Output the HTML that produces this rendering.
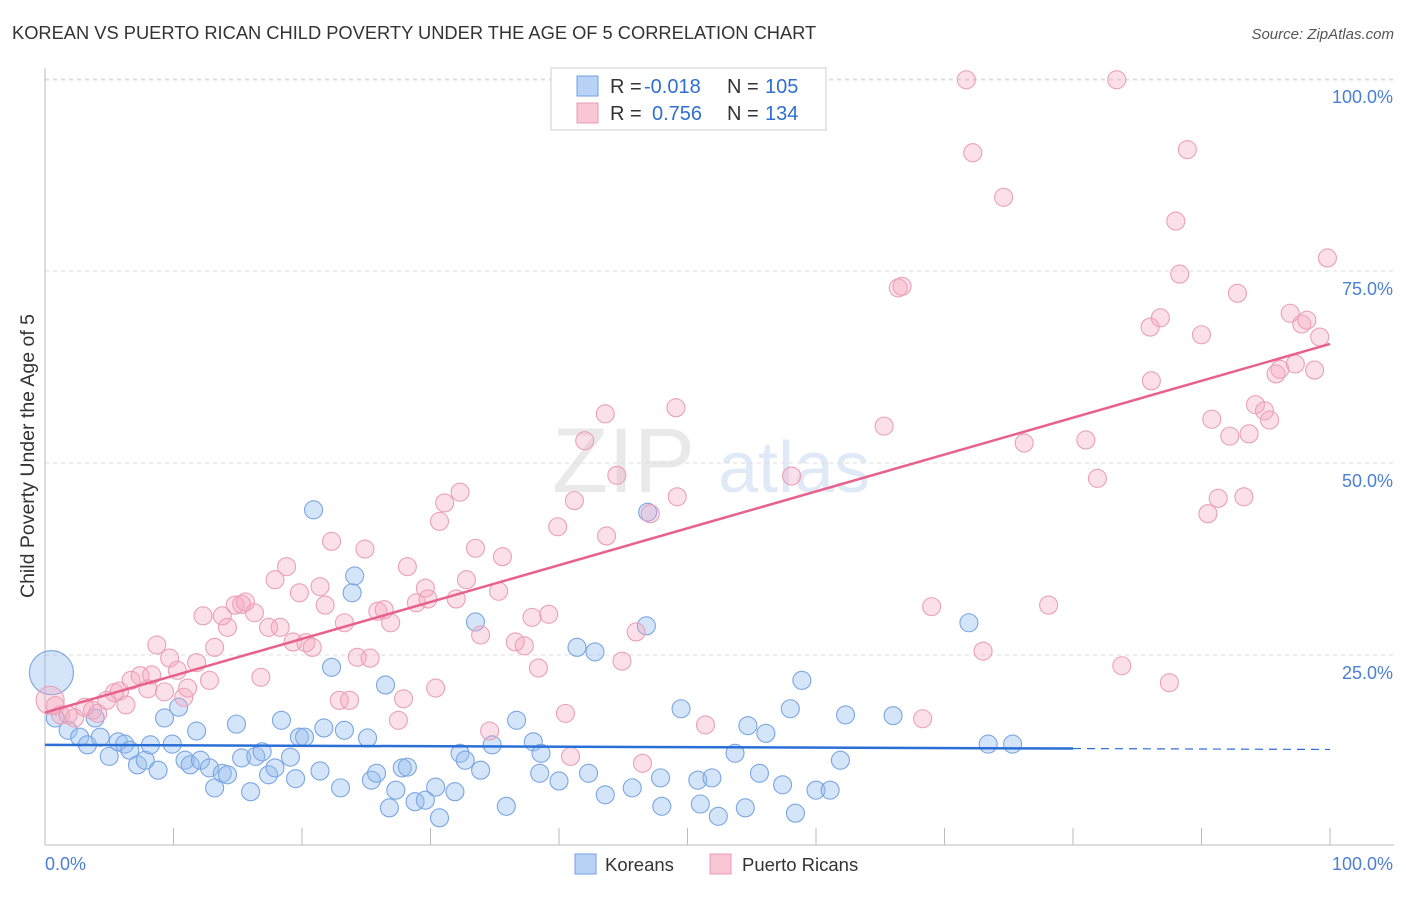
<!DOCTYPE html>
<html><head><meta charset="utf-8"><style>
body{margin:0;background:#fff;font-family:"Liberation Sans",sans-serif;}
svg text{font-family:"Liberation Sans",sans-serif;}
</style></head><body>
<svg id="chart" width="1406" height="892" viewBox="0 0 1406 892" xmlns="http://www.w3.org/2000/svg">
<text x="12" y="39" font-size="18.3" fill="#333">KOREAN VS PUERTO RICAN CHILD POVERTY UNDER THE AGE OF 5 CORRELATION CHART</text>
<text x="1394" y="39" font-size="15" fill="#555" text-anchor="end" font-style="italic">Source: ZipAtlas.com</text>
<g opacity="0.18">
<text x="552" y="492" font-size="92" font-family="Liberation Serif,serif" fill="#888">ZIP</text>
<text x="718" y="492" font-size="72" fill="#5b8fd8">atlas</text>
</g>
<g id="grid"></g>
<g id="axes"></g>
<g id="pts"></g>
<g id="trend"></g>
<text transform="translate(34,456) rotate(-90)" font-size="19.5" fill="#333" text-anchor="middle">Child Poverty Under the Age of 5</text>
<text x="45" y="870" font-size="18" fill="#4a7fd4">0.0%</text>
<text x="1393" y="870" font-size="18" fill="#4a7fd4" text-anchor="end">100.0%</text>
<g>
<rect x="551" y="68" width="275" height="62" fill="#fff" stroke="#ccc"/>
<rect x="577" y="76" width="21" height="20" fill="#b8d3f5" stroke="#6f9fe0"/>
<rect x="577" y="103" width="21" height="20" fill="#f9c6d6" stroke="#e89ab4"/>
<text x="610" y="93" font-size="20" fill="#333">R =</text>
<text x="644" y="93" font-size="20" fill="#2f6fd0">-0.018</text>
<text x="727" y="93" font-size="20" fill="#333">N =</text>
<text x="765" y="93" font-size="20" fill="#2f6fd0">105</text>
<text x="610" y="120" font-size="20" fill="#333">R =</text>
<text x="652" y="120" font-size="20" fill="#2f6fd0">0.756</text>
<text x="727" y="120" font-size="20" fill="#333">N =</text>
<text x="765" y="120" font-size="20" fill="#2f6fd0">134</text>
</g>
<g>
<rect x="575" y="854" width="21" height="20" fill="#b8d3f5" stroke="#6f9fe0"/>
<text x="605" y="871" font-size="18.5" fill="#333">Koreans</text>
<rect x="710" y="854" width="21" height="20" fill="#f9c6d6" stroke="#e89ab4"/>
<text x="742" y="871" font-size="18.5" fill="#333">Puerto Ricans</text>
</g>
</svg>
<script>
const yTicks=[25,50,75,100];
const yTickLabels=["25.0%","50.0%","75.0%","100.0%"];
const xTicks=[10,20,30,40,50,60,70,80,90,100];
const koreanX=[0.5,0.8,1.8,2.7,3.3,3.9,4.3,5.0,5.7,6.2,6.6,7.2,7.8,8.2,8.8,9.3,9.9,10.4,10.9,11.3,11.8,12.1,12.8,13.2,13.8,14.2,14.9,15.3,16.0,16.4,16.9,17.4,17.9,18.4,19.1,19.5,19.8,20.2,20.9,21.4,21.7,22.3,23.0,23.3,23.9,24.1,25.1,25.4,25.8,26.5,26.8,27.3,27.8,28.2,28.8,29.6,30.4,30.7,31.9,32.3,32.7,33.5,33.9,34.8,35.9,36.7,38.0,38.5,38.6,40.0,41.4,42.3,42.8,43.6,45.7,46.9,46.8,48.0,47.9,49.5,50.8,51.9,51.0,52.4,53.7,54.5,54.7,55.6,56.1,57.4,58.0,58.4,58.9,60.0,61.1,61.9,62.3,66.0,71.9,73.4,75.3];
const koreanY=[22.7,16.8,15.2,14.3,13.3,16.8,14.3,11.8,13.7,13.4,12.6,10.7,11.3,13.3,10.0,16.8,13.4,18.2,11.3,10.7,15.1,11.3,10.3,7.7,9.6,9.4,16.0,11.6,7.2,11.8,12.4,9.4,10.3,16.5,11.7,8.9,14.3,14.3,43.9,9.9,15.5,23.4,7.7,15.2,33.1,35.3,14.2,8.7,9.6,21.1,5.1,7.4,10.3,10.4,5.9,6.1,7.8,3.8,7.2,12.2,11.3,29.3,10.0,13.3,5.3,16.5,13.7,9.6,12.2,8.6,26.0,9.6,25.4,6.8,7.7,43.6,28.8,5.3,9.0,18.0,8.7,9.0,5.6,4.0,12.2,5.1,15.8,9.6,14.8,8.1,18.0,4.4,21.7,7.4,7.4,11.3,17.2,17.1,29.2,13.4,13.4];
const koreanSize=[22];
const prX=[0.4,0.8,1.2,1.8,2.3,3.1,3.7,4.1,4.8,5.4,5.8,6.3,6.7,7.4,8.0,8.3,8.7,9.3,9.7,10.3,10.8,11.1,11.8,12.3,12.8,13.2,13.8,14.2,14.8,15.3,15.6,16.3,16.8,17.4,17.9,18.3,18.8,19.3,19.8,20.3,20.8,21.4,21.8,22.3,22.9,23.3,23.7,24.3,24.9,25.3,25.9,26.4,26.9,27.5,27.9,28.2,28.9,29.6,29.8,30.7,31.1,30.4,32.0,32.3,32.8,33.5,33.9,34.6,35.3,35.6,36.6,37.3,37.9,38.4,39.2,39.9,40.5,40.9,42.0,41.2,43.6,43.7,44.5,44.9,46.0,46.5,47.1,49.1,49.2,51.4,58.1,65.3,66.4,66.7,69.0,68.3,71.7,72.2,73.0,74.6,76.2,78.1,81.0,81.9,83.4,83.8,86.0,86.1,86.8,87.5,88.0,88.3,88.9,90.0,90.5,90.8,91.3,92.2,92.8,93.3,93.7,94.2,94.9,95.3,95.8,96.1,96.9,97.3,97.8,98.2,98.8,99.2,99.8];
const prY=[19.1,18.4,17.2,17.2,16.8,18.2,17.8,17.4,19.1,20.1,20.3,18.5,21.7,22.3,20.6,22.4,26.3,20.2,24.6,23.0,19.5,20.7,24.0,30.1,21.7,26.0,30.1,28.6,31.5,31.6,31.9,30.5,22.1,28.6,34.8,28.6,36.5,26.7,33.1,26.6,26.0,33.9,31.5,39.8,19.1,29.2,19.1,24.7,38.8,24.6,30.7,30.9,29.2,16.5,19.3,36.5,31.8,33.7,32.3,42.4,44.8,20.7,32.3,46.2,34.8,38.9,27.6,15.1,33.3,37.8,26.7,26.2,29.9,23.3,30.3,41.7,17.4,11.8,52.9,45.1,56.4,40.5,48.4,24.2,28.0,10.9,43.4,57.2,45.6,15.9,48.3,54.8,72.8,73.0,31.3,16.7,99.9,90.4,25.5,84.6,52.6,31.5,53.0,48.0,99.9,23.6,67.7,60.7,68.9,21.4,81.5,74.6,90.8,66.7,43.4,55.7,45.4,53.5,72.1,45.6,53.8,57.6,56.8,55.6,61.6,62.2,69.5,62.9,68.1,68.6,62.1,66.4,76.7];
const prSize=[14];
const koreanTrend=[13.3,12.7];
const prTrend=[17.5,65.5];
const X0=45,X1=1330,Y0=847,Y100=79;
function sx(v){return X0+(X1-X0)*v/100;}
function sy(v){return Y0-(Y0-Y100)*v/100;}
const NS="http://www.w3.org/2000/svg";
function mk(t,a,p){const e=document.createElementNS(NS,t);for(const k in a)e.setAttribute(k,a[k]);p.appendChild(e);return e;}
const grid=document.getElementById('grid'),axes=document.getElementById('axes'),pts=document.getElementById('pts'),tr=document.getElementById('trend');
mk('line',{x1:45,y1:80,x2:1394,y2:80,stroke:'#ddd','stroke-dasharray':'4,4'},grid);
yTicks.forEach((v,i)=>{
 const l=mk('line',{x1:45,y1:sy(v),x2:1394,y2:sy(v),stroke:'#ddd','stroke-dasharray':'4,4'},grid);
 
 
 const t=mk('text',{x:1393,y:sy(v)+24,'font-size':18,fill:'#4a7fd4','text-anchor':'end'},grid);
 t.textContent=yTickLabels[i];
 
 
});
const ax=mk('line',{x1:45,y1:68,x2:45,y2:845,stroke:'#bbb'},axes);


const bx=mk('line',{x1:45,y1:845,x2:1394,y2:845,stroke:'#bbb'},axes);


xTicks.forEach(v=>{
 const l=mk('line',{x1:sx(v),y1:828,x2:sx(v),y2:845,stroke:'#bbb'},axes);
 
 
});
koreanX.forEach((x,i)=>{
 const c=mk('circle',{cx:sx(x),cy:sy(koreanY[i]),r:koreanSize[i]||9,fill:'rgba(150,190,240,0.4)',stroke:'#7aa6e2','stroke-width':1.1},pts);
 
 
});
prX.forEach((x,i)=>{
 const c=mk('circle',{cx:sx(x),cy:sy(prY[i]),r:prSize[i]||9,fill:'rgba(245,165,192,0.35)',stroke:'#eaa0b9','stroke-width':1.1},pts);
 
 
});
function kt(x){return koreanTrend[0]+(koreanTrend[1]-koreanTrend[0])*x/100;}
const k1=mk('line',{x1:sx(0),y1:sy(kt(0)),x2:sx(80),y2:sy(kt(80)),stroke:'#2a6fd6','stroke-width':2.5},tr);


const k2=mk('line',{x1:sx(80),y1:sy(kt(80)),x2:sx(100),y2:sy(kt(100)),stroke:'#2a6fd6','stroke-width':1.2,'stroke-dasharray':'8,6'},tr);


const p1=mk('line',{x1:sx(0),y1:sy(prTrend[0]),x2:sx(100),y2:sy(prTrend[1]),stroke:'#e8608c','stroke-width':2.5},tr);


</script>
</body></html>
